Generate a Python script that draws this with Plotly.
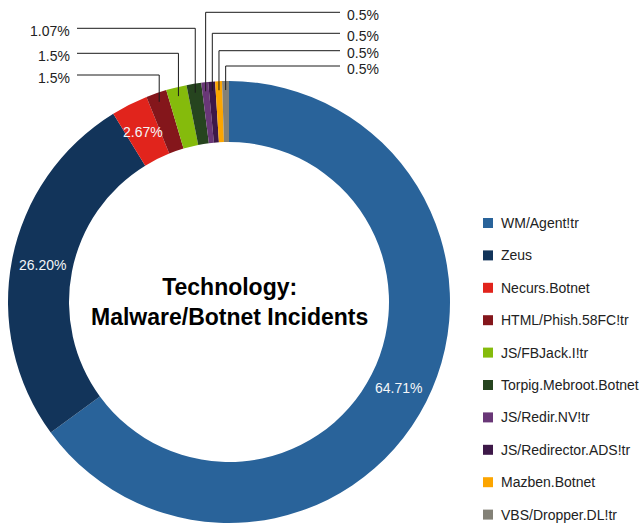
import numpy as np
import plotly.graph_objects as go

# ---- data ----
labels = [
    "WM/Agent!tr", "Zeus", "Necurs.Botnet", "HTML/Phish.58FC!tr", "JS/FBJack.I!tr",
    "Torpig.Mebroot.Botnet", "JS/Redir.NV!tr", "JS/Redirector.ADS!tr", "Mazben.Botnet",
    "VBS/Dropper.DL!tr",
]
values = [64.71, 26.20, 2.67, 1.5, 1.5, 1.07, 0.5, 0.5, 0.5, 0.5]
value_text = ["64.71%", "26.20%", "2.67%", "1.5%", "1.5%", "1.07%", "0.5%", "0.5%", "0.5%", "0.5%"]
colors = [
    "#29639a", "#12345a", "#e1241c", "#84161b", "#85bb0c",
    "#26441f", "#693777", "#3d1848", "#fca500", "#838177",
]

# ---- layout constants (pixels) ----
W, H = 642, 524
CX, CY, R_OUT = 229, 302, 221
HOLE = 0.724
R_IN = R_OUT * HOLE
FONT = "Liberation Sans, Arial, Helvetica, sans-serif"


def px(x):
    return x / W


def py(y):
    return 1 - y / H


fig = go.Figure(
    go.Pie(
        labels=labels,
        values=values,
        marker=dict(colors=colors, line=dict(width=0)),
        hole=HOLE,
        sort=False,
        direction="clockwise",
        rotation=0,
        textinfo="none",
        showlegend=False,
        domain=dict(x=[px(CX - R_OUT), px(CX + R_OUT)], y=[py(CY + R_OUT), py(CY - R_OUT)]),
    )
)

# slice mid-angles (clockwise from 12 o'clock)
v = np.array(values, dtype=float)
frac = v / v.sum()
mid = np.cumsum(frac) - frac / 2
theta = 2 * np.pi * mid


def polar(r, t):
    return CX + r * np.sin(t), CY - r * np.cos(t)


annotations = []
shapes = []

# labels sitting on the ring for the large slices
r_mid = (R_OUT + R_IN) / 2
for i in range(3):
    x, y = polar(r_mid, theta[i])
    annotations.append(dict(
        x=px(x), y=py(y), xref="paper", yref="paper", text=value_text[i],
        showarrow=False, xanchor="center", yanchor="middle",
        font=dict(family=FONT, size=14, color="#f4f6f8"),
    ))

# callout labels for the small slices: (index, row y, side)
callouts = [
    (3, 75.0, "left"), (4, 53.3, "left"), (5, 28.3, "left"),
    (6, 12.3, "right"), (7, 33.3, "right"), (8, 50.7, "right"), (9, 66.0, "right"),
]
R_END = 212
for i, row_y, side in callouts:
    xe, ye = polar(R_END, theta[i])
    if side == "left":
        x_text_end = 77
        path = f"M {px(x_text_end)},{py(row_y)} L {px(xe)},{py(row_y)} L {px(xe)},{py(ye)}"
        annotations.append(dict(
            x=px(72), y=py(row_y + 2.5), xref="paper", yref="paper", text=value_text[i],
            showarrow=False, xanchor="right", yanchor="middle",
            font=dict(family=FONT, size=14, color="#222222"),
        ))
    else:
        x_text_end = 340
        path = f"M {px(x_text_end)},{py(row_y)} L {px(xe)},{py(row_y)} L {px(xe)},{py(ye)}"
        annotations.append(dict(
            x=px(345), y=py(row_y + 2.5), xref="paper", yref="paper", text=value_text[i],
            showarrow=False, xanchor="left", yanchor="middle",
            font=dict(family=FONT, size=14, color="#222222"),
        ))
    shapes.append(dict(type="path", path=path, xref="paper", yref="paper",
                       line=dict(color="#1a1a1a", width=1)))

# centre title
annotations.append(dict(
    x=px(CX), y=py(CY), xref="paper", yref="paper",
    text="<b>Technology:<br>Malware/Botnet Incidents</b>",
    showarrow=False, xanchor="center", yanchor="middle", align="center",
    font=dict(family=FONT, size=23, color="#000000"),
))

# legend column
LEG_X, LEG_Y0, LEG_STEP, SW = 483, 223, 32.4, 10
for k, (name, col) in enumerate(zip(labels, colors)):
    yc = LEG_Y0 + k * LEG_STEP
    shapes.append(dict(type="rect", xref="paper", yref="paper",
                       x0=px(LEG_X), x1=px(LEG_X + SW), y0=py(yc - SW / 2), y1=py(yc + SW / 2),
                       fillcolor=col, line=dict(width=0)))
    annotations.append(dict(
        x=px(LEG_X + SW + 6), y=py(yc), xref="paper", yref="paper", text=name,
        showarrow=False, xanchor="left", yanchor="middle",
        font=dict(family=FONT, size=14, color="#222222"),
    ))

fig.update_layout(
    width=W, height=H, autosize=False,
    margin=dict(l=0, r=0, t=0, b=0),
    paper_bgcolor="white", plot_bgcolor="white",
    annotations=annotations, shapes=shapes,
)

fig.write_html("out.html")
